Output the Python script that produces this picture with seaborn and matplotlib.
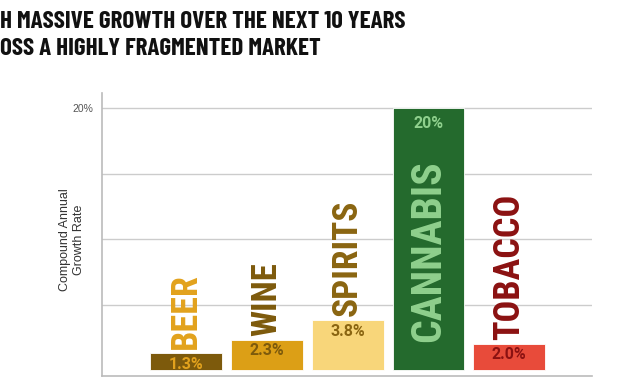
import matplotlib
matplotlib.use("Agg")
import matplotlib.pyplot as plt
import seaborn as sns
import pandas as pd

# Data
categories = ["BEER", "WINE", "SPIRITS", "CANNABIS", "TOBACCO"]
growth = [1.3, 2.3, 3.8, 20.0, 2.0]
value_labels = ["1.3%", "2.3%", "3.8%", "20%", "2.0%"]

bar_colors = ["#7d5a0c", "#dc9f16", "#f8d67a", "#246a2d", "#e84b3a"]
text_colors = ["#e2a21d", "#7d5a0c", "#8a6511", "#8fd08d", "#8b1111"]
label_sizes = [26, 25, 25.5, 30, 26]

COND = ["Roboto Condensed", "Barlow Condensed", "DejaVu Sans"]
TITLE_FONT = ["Barlow Condensed", "Roboto Condensed", "DejaVu Sans"]

df = pd.DataFrame({"Category": categories, "Growth": growth})

sns.set_theme(style="white")
plt.rcParams["font.family"] = ["Liberation Sans", "DejaVu Sans"]

fig = plt.figure(figsize=(6.2, 3.9), dpi=100)
ax = fig.add_axes([0.1645, 0.0359, 0.790, 0.7256])

sns.barplot(
    data=df, x="Category", y="Growth", hue="Category",
    palette=bar_colors, width=0.89, legend=False, ax=ax,
    edgecolor="#ffffff", linewidth=0.6, saturation=1,
)

ax.set_xlim(-1.04, 5.02)
ax.set_ylim(-0.46, 21.15)
ax.set_yticks([5, 10, 15, 20])
ax.set_yticklabels(["", "", "", "20%"], fontsize=7.5, color="#555555")
ax.tick_params(axis="y", length=0, pad=6.5)
ax.set_xticks([])
ax.set_xlabel("")
ax.set_ylabel("")
ax.yaxis.grid(True, color="#cccccc", linewidth=1)
ax.set_axisbelow(True)
for side in ["top", "right"]:
    ax.spines[side].set_visible(False)
for side in ["left", "bottom"]:
    ax.spines[side].set_color("#bbbbbb")
    ax.spines[side].set_linewidth(1.2)

# category names, rotated
for i, (name, val) in enumerate(zip(categories, growth)):
    if name == "CANNABIS":
        ax.text(i, 2.1, name, rotation=90, ha="center", va="bottom",
                fontsize=label_sizes[i], fontweight="bold", color=text_colors[i],
                family=COND)
    else:
        ax.annotate(name, (i, val), xytext=(0, 3), textcoords="offset points",
                    rotation=90, ha="center", va="bottom",
                    fontsize=label_sizes[i], fontweight="bold", color=text_colors[i],
                    family=COND)
    off = -11 if name == "CANNABIS" else -8
    ax.annotate(value_labels[i], (i, val), xytext=(0, off), textcoords="offset points",
                ha="center", va="center", fontsize=11.5, fontweight="bold",
                color=text_colors[i], family=["Roboto", "DejaVu Sans"])

# y label
fig.text(72 / 620, 1 - 240 / 390, "Compound Annual\nGrowth Rate", rotation=90,
         ha="center", va="center", multialignment="center", fontsize=9,
         color="#333333", linespacing=1.2)

# title (cropped at the left edge as in the source)
fig.text(0.0, 1 - 28 / 390, "H MASSIVE GROWTH OVER THE NEXT 10 YEARS",
         ha="left", va="baseline", fontsize=18, fontweight="bold",
         color="#111111", family=TITLE_FONT)
fig.text(0.0, 1 - 55 / 390, "OSS A HIGHLY FRAGMENTED MARKET",
         ha="left", va="baseline", fontsize=18, fontweight="bold",
         color="#111111", family=TITLE_FONT)

fig.savefig("out.png", dpi=100)
